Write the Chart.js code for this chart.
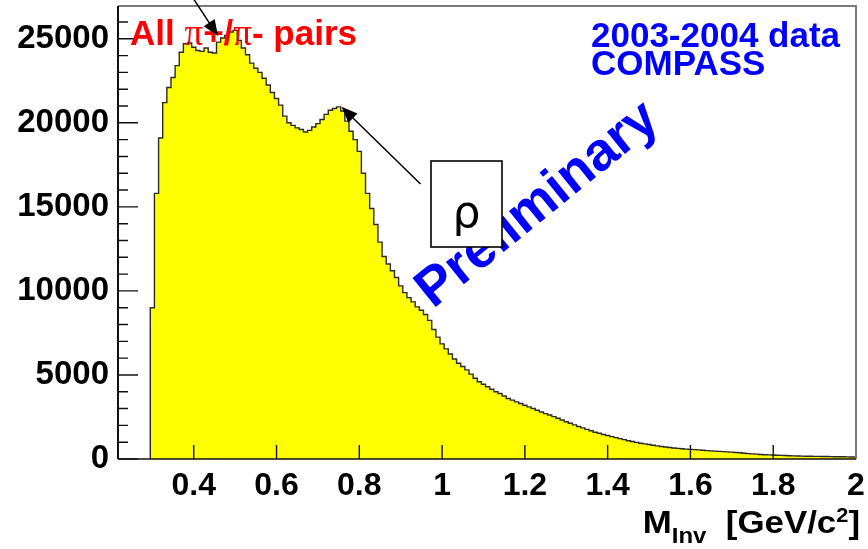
<!DOCTYPE html>
<html>
<head>
<meta charset="utf-8">
<script src="https://cdn.jsdelivr.net/npm/chart.js@4.4.1/dist/chart.umd.min.js"></script>
<style>
  html, body { margin: 0; padding: 0; background: #ffffff; }
  #wrap { width: 868px; height: 549px; position: relative; }
</style>
</head>
<body>
<div id="wrap"><canvas id="c"></canvas></div>
<script>
// Invariant-mass histogram of pi+/pi- pairs, 10 MeV bins starting at 0.295 GeV/c^2
const binWidth = 0.01;
const firstBinCenter = 0.30;
const counts = [
  9000, 15800, 19100, 21200, 22100, 22700, 23400, 24200, 24700, 24750,
  24500, 24300, 24250, 24450, 24200, 24150, 24800, 25050, 25200, 25400,
  25500, 24900, 24450, 24050, 23550, 23250, 23000, 22650, 22250, 21800,
  21450, 21050, 20400, 20000, 19850, 19700, 19600, 19450, 19550, 19750,
  19950, 20200, 20500, 20750, 20850, 20950, 20700, 20100, 19500, 19000,
  18300, 17000, 15800, 14900, 13950, 12900, 12050, 11600, 11200, 10800,
  10300, 9900, 9600, 9350, 9050, 8850, 8600, 8250, 7700, 7250,
  6850,
  6550, 6250, 5950, 5700, 5500, 5300, 5050, 4800, 4600, 4450,
  4300, 4150, 4000, 3900, 3750, 3600, 3500, 3400, 3300, 3200,
  3100, 3000, 2900, 2800, 2700, 2620, 2520, 2420, 2320, 2220,
  2130, 2030, 1930, 1850, 1760, 1680, 1590, 1530, 1460, 1400,
  1330, 1270, 1210, 1150, 1090, 1040, 990, 940, 900, 860,
  820, 780, 740, 710, 680, 650, 630, 610, 590, 570,
  555, 540, 520, 500, 485, 470, 455, 440, 425, 410,
  390, 370, 345, 320, 305, 290, 270, 255, 245, 235,
  225, 215, 205, 195, 185, 178, 172, 167, 162, 158,
  154, 150, 146, 142, 138, 134, 130, 126, 122, 118
];
const binCenters = counts.map((_, i) => +(firstBinCenter + i * binWidth).toFixed(3));

// Axis settings
const xMin = 0.217, xMax = 2.0;
const xTickValues = [0.4, 0.6, 0.8, 1.0, 1.2, 1.4, 1.6, 1.8, 2.0];
const yTickValues = [0, 5000, 10000, 15000, 20000, 25000];
const yMax = 26950;
const yMajorStep = 5000;
const yMinorStep = 1000;

// Step outline: each bin's low edge carries the bin content
const stepPoints = [{ x: binCenters[0] - binWidth / 2, y: 0 }];
binCenters.forEach((c, i) => stepPoints.push({ x: c - binWidth / 2, y: counts[i] }));
stepPoints.push({ x: binCenters[binCenters.length - 1] + binWidth / 2, y: counts[counts.length - 1] });

const FONT = "'Liberation Sans', Arial, Helvetica, sans-serif";

function arrow(ctx, x1, y1, x2, y2, headLen, headHalf) {
  const ang = Math.atan2(y2 - y1, x2 - x1);
  ctx.beginPath();
  ctx.moveTo(x1, y1);
  ctx.lineTo(x2 - Math.cos(ang) * headLen * 0.8, y2 - Math.sin(ang) * headLen * 0.8);
  ctx.stroke();
  ctx.beginPath();
  ctx.moveTo(x2, y2);
  ctx.lineTo(x2 - Math.cos(ang) * headLen - Math.sin(ang) * headHalf,
             y2 - Math.sin(ang) * headLen + Math.cos(ang) * headHalf);
  ctx.lineTo(x2 - Math.cos(ang) * headLen + Math.sin(ang) * headHalf,
             y2 - Math.sin(ang) * headLen - Math.cos(ang) * headHalf);
  ctx.closePath();
  ctx.fill();
}

function drawRuns(ctx, runs, x, baseline) {
  let cx = x;
  runs.forEach(r => {
    ctx.font = r.font;
    ctx.fillText(r.t, cx, baseline + (r.dy || 0));
    cx += ctx.measureText(r.t).width;
  });
}
function runsWidth(ctx, runs) {
  let w = 0;
  runs.forEach(r => { ctx.font = r.font; w += ctx.measureText(r.t).width; });
  return w;
}

const frameAndLabels = {
  id: 'frameAndLabels',
  afterDatasetsDraw(chart) {
    const { ctx, chartArea: a, scales: { x, y } } = chart;
    ctx.save();

    // inward tick marks
    ctx.strokeStyle = '#111';
    ctx.lineWidth = 1.4;
    ctx.beginPath();
    for (let v = 0; v <= yMax; v += yMinorStep) {
      const py = y.getPixelForValue(v);
      const len = (v % yMajorStep === 0) ? 20 : 10;
      ctx.moveTo(a.left, py); ctx.lineTo(a.left + len, py);
    }
    xTickValues.forEach(v => {
      const px = x.getPixelForValue(v);
      ctx.moveTo(px, a.bottom); ctx.lineTo(px, a.bottom - 14);
    });
    ctx.stroke();

    // frame
    ctx.strokeStyle = '#7a7a7a';
    ctx.lineWidth = 2;
    ctx.beginPath();
    ctx.moveTo(a.left, a.top); ctx.lineTo(a.right, a.top); ctx.lineTo(a.right, a.bottom);
    ctx.stroke();
    ctx.strokeStyle = '#111';
    ctx.lineWidth = 2;
    ctx.beginPath();
    ctx.moveTo(a.left, a.top); ctx.lineTo(a.left, a.bottom);
    ctx.stroke();
    ctx.lineWidth = 1.5;
    ctx.beginPath();
    ctx.moveTo(a.left, a.bottom); ctx.lineTo(a.right, a.bottom);
    ctx.stroke();

    ctx.textAlign = 'left';
    ctx.textBaseline = 'alphabetic';

    // x-axis title, right-aligned to the canvas edge
    ctx.fillStyle = '#000';
    const title = [
      { t: 'M', font: `bold 32px ${FONT}` },
      { t: 'Inv', font: `bold 22px ${FONT}`, dy: 10 },
      { t: '  [GeV/c', font: `bold 32px ${FONT}` },
      { t: '2', font: `bold 20px ${FONT}`, dy: -11 },
      { t: ']', font: `bold 32px ${FONT}` }
    ];
    const stretch = 1.09;
    ctx.save();
    ctx.translate(860, 0);
    ctx.scale(stretch, 1);
    drawRuns(ctx, title, -runsWidth(ctx, title), 533);
    ctx.restore();

    // red label
    ctx.fillStyle = '#ff0000';
    const SERIF = "'Liberation Serif', 'DejaVu Serif', serif";
    drawRuns(ctx, [
      { t: 'All ', font: `bold 35px ${FONT}` },
      { t: 'π', font: `37px ${SERIF}` },
      { t: '+/', font: `bold 35px ${FONT}` },
      { t: 'π', font: `37px ${SERIF}` },
      { t: '- pairs', font: `bold 35px ${FONT}` }
    ], 130, 45);

    // experiment label
    ctx.fillStyle = '#0000ff';
    ctx.font = `bold 35px ${FONT}`;
    ctx.fillText('2003-2004 data', 591, 47);
    ctx.fillText('COMPASS', 591, 75);

    // Preliminary stamp
    ctx.save();
    ctx.translate(538, 205);
    ctx.rotate(-39 * Math.PI / 180);
    ctx.textAlign = 'center';
    ctx.textBaseline = 'middle';
    ctx.font = `bold 54px ${FONT}`;
    ctx.fillText('Preliminary', 0, 0);
    ctx.restore();

    // rho box and arrows
    ctx.fillStyle = '#ffffff';
    ctx.fillRect(431, 161, 71, 86);
    ctx.strokeStyle = '#000';
    ctx.lineWidth = 1.6;
    ctx.strokeRect(431, 161, 71, 86);
    ctx.fillStyle = '#000';
    ctx.textAlign = 'center';
    ctx.font = `44px 'DejaVu Sans', sans-serif`;
    ctx.fillText('ρ', 466.5, 227);

    ctx.lineWidth = 1.5;
    arrow(ctx, 420.5, 184, x.getPixelForValue(0.757), y.getPixelForValue(20950), 16, 6.5);
    arrow(ctx, 193, -2, 218, 36, 16, 6.5);

    ctx.restore();
  }
};

new Chart(document.getElementById('c'), {
  type: 'line',
  data: {
    datasets: [{
      data: stepPoints,
      stepped: 'before',
      fill: 'origin',
      backgroundColor: '#ffff00',
      borderColor: '#2b2b2b',
      borderWidth: 1.4,
      pointRadius: 0,
      tension: 0
    }]
  },
  options: {
    responsive: true,
    maintainAspectRatio: false,
    animation: false,
    events: [],
    layout: { padding: { top: 6, right: 12, left: 0, bottom: 0 } },
    plugins: { legend: { display: false }, tooltip: { enabled: false } },
    scales: {
      x: {
        type: 'linear',
        min: xMin,
        max: xMax,
        grid: { display: false, drawTicks: false },
        border: { display: false },
        afterBuildTicks: s => { s.ticks = xTickValues.map(v => ({ value: v })); },
        afterFit: s => { s.height = 90; s.paddingLeft = 0; s.paddingRight = 0; },
        ticks: {
          autoSkip: false,
          maxRotation: 0,
          padding: 8,
          color: '#000',
          font: { family: FONT, weight: 'bold', size: 32 },
          callback: v => String(+v.toFixed(1))
        }
      },
      y: {
        type: 'linear',
        min: 0,
        max: yMax,
        grid: { display: false, drawTicks: false },
        border: { display: false },
        afterBuildTicks: s => { s.ticks = yTickValues.map(v => ({ value: v })); },
        afterFit: s => { s.width = 118; s.paddingTop = 0; s.paddingBottom = 0; },
        ticks: {
          autoSkip: false,
          padding: 9,
          color: '#000',
          font: { family: FONT, weight: 'bold', size: 33 },
          callback: v => String(v)
        }
      }
    }
  },
  plugins: [frameAndLabels]
});
</script>
</body>
</html>
